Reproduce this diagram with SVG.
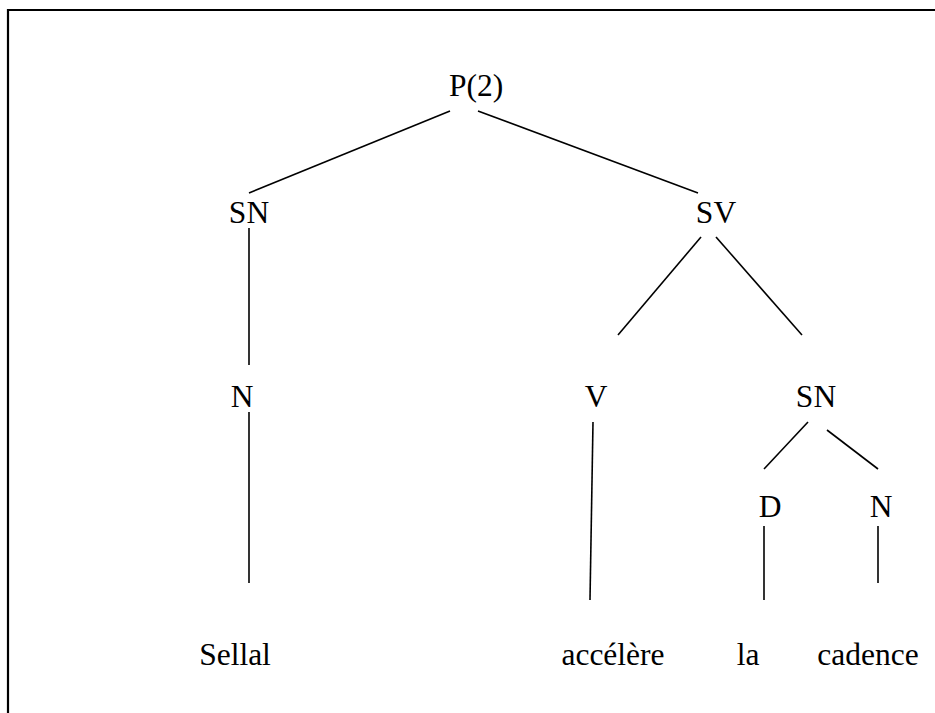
<svg xmlns="http://www.w3.org/2000/svg" width="935" height="713" viewBox="0 0 935 713">
<style>
text{font-family:"Liberation Serif","Times New Roman",serif;font-size:31.5px;fill:#000;text-anchor:middle}
.e{stroke:#000;stroke-width:1.6;fill:none}
</style>
<rect width="935" height="713" fill="#fff"/>
<path d="M8,713 V10 H935" stroke="#000" stroke-width="2.2" fill="none"/>
<g id="connectors">
<line class="e" x1="450" y1="111" x2="249" y2="193"/>
<line class="e" x1="478" y1="111" x2="698" y2="193"/>
<line class="e" x1="249" y1="228" x2="249" y2="365"/>
<line class="e" x1="249" y1="412" x2="249" y2="583"/>
<line class="e" x1="701" y1="237" x2="618" y2="335"/>
<line class="e" x1="716" y1="237" x2="802" y2="335"/>
<line class="e" x1="593" y1="422" x2="590" y2="600"/>
<line class="e" x1="808" y1="422" x2="764" y2="469"/>
<line class="e" x1="827" y1="430" x2="878" y2="469"/>
<line class="e" x1="764" y1="526" x2="764" y2="600"/>
<line class="e" x1="878" y1="526" x2="878" y2="583"/>
</g>
<g id="P"><text x="476" y="96">P(2)</text></g>
<g id="SN1"><text x="249" y="223">SN</text></g>
<g id="SV"><text x="716" y="223">SV</text></g>
<g id="N1"><text x="242" y="407">N</text></g>
<g id="V"><text x="596" y="407">V</text></g>
<g id="SN2"><text x="816" y="407">SN</text></g>
<g id="D"><text x="770" y="517">D</text></g>
<g id="N2"><text x="881" y="517">N</text></g>
<g id="w1"><text x="235" y="665">Sellal</text></g>
<g id="w2"><text x="613" y="665">accélère</text></g>
<g id="w3"><text x="748" y="665">la</text></g>
<g id="w4"><text x="868" y="665">cadence</text></g>
</svg>
